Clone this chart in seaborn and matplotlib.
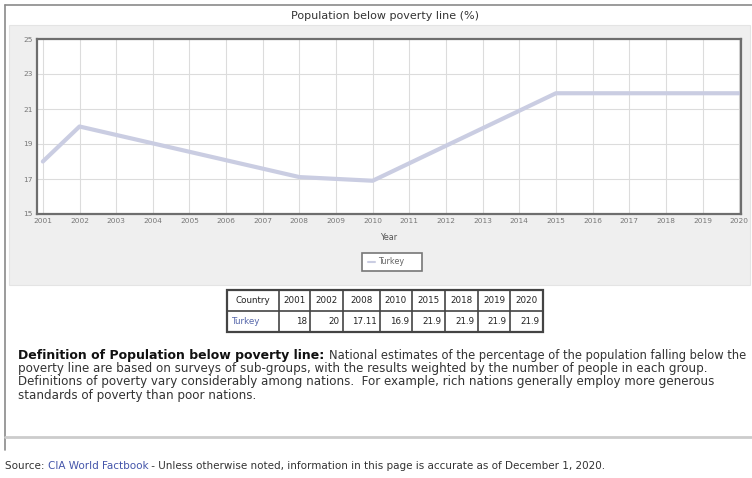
import pandas as pd
import matplotlib.pyplot as plt
import seaborn as sns
from matplotlib.lines import Line2D
from matplotlib.patches import Rectangle

tick_years = list(range(2001, 2021))
years = [2001, 2002, 2008, 2010, 2015, 2018, 2019, 2020]
values = [18, 20, 17.11, 16.9, 21.9, 21.9, 21.9, 21.9]
table_labels = ["18", "20", "17.11", "16.9", "21.9", "21.9", "21.9", "21.9"]
y_ticks = [15, 17, 19, 21, 23, 25]

df = pd.DataFrame({"Year": years, "value": values, "country": "Turkey"})

sns.set_theme(style="white")
plt.rcParams["font.family"] = ["DejaVu Sans"]

W, H = 752, 478
fig = plt.figure(figsize=(W / 100, H / 100), dpi=100)
fig.patch.set_facecolor("white")


def box(x, y, w, h):
    # pixel box (top-left origin) -> figure fraction
    return [x / W, 1 - (y + h) / H, w / W, h / H]


def fx(x):
    return x / W


def fy(y):
    return 1 - y / H


# page border lines
fig.add_artist(Line2D([fx(5), fx(752)], [fy(5), fy(5)], color="#8a8a8a", lw=1.2))
fig.add_artist(Line2D([fx(5), fx(5)], [fy(5), fy(450)], color="#8a8a8a", lw=1.2))

# chart title
fig.text(fx(385), fy(16), "Population below poverty line (%)", ha="center", va="center",
         fontsize=8, color="#333333")

# grey chart panel (behind the axes)
fig.add_artist(Rectangle((fx(9), fy(285)), fx(741), fy(25) - fy(285), facecolor="#efefef",
                         edgecolor="#e4e4e4", lw=0.8, transform=fig.transFigure, zorder=-5))

# plot area
ax = fig.add_axes(box(37, 39, 704, 175))
sns.lineplot(data=df, x="Year", y="value", hue="country", palette=["#cacde2"],
             linewidth=3, ax=ax, legend=False)
ax.set_xlim(2000.84, 2020.05)
ax.set_ylim(15, 25)
ax.set_xticks(tick_years)
ax.set_xticklabels([str(y) for y in tick_years], fontsize=5.3, color="#777777")
ax.set_yticks(y_ticks)
ax.set_yticklabels([str(y) for y in y_ticks], fontsize=5.3, color="#777777")
ax.tick_params(axis="both", length=0, pad=3)
ax.grid(True, color="#dcdcdc", lw=0.8)
ax.set_facecolor("white")
for s in ax.spines.values():
    s.set_color("#6e6e6e")
    s.set_linewidth(1.6)
ax.set_xlabel("Year", fontsize=5.8, color="#555555", labelpad=6)
ax.set_ylabel("")

# legend box
fig.add_artist(Rectangle((fx(362), fy(271)), fx(60), fy(253) - fy(271), facecolor="white",
                         edgecolor="#777777", lw=1.2, transform=fig.transFigure))
fig.add_artist(Line2D([fx(368), fx(375)], [fy(262), fy(262)], color="#cacde2", lw=1.5))
fig.text(fx(378), fy(262), "Turkey", fontsize=5.8, color="#666666", va="center")

# data table
cols = [227, 279, 310, 343, 380, 412, 445, 478, 510, 543]
rows = [290, 311, 332]
header = ["Country"] + [str(y) for y in years]
body = ["Turkey"] + table_labels
fig.add_artist(Rectangle((fx(cols[0]), fy(rows[2])), fx(cols[-1] - cols[0]), fy(rows[0]) - fy(rows[2]),
                         facecolor="white", edgecolor="#444444", lw=1.6, transform=fig.transFigure))
for x in cols[1:-1]:
    fig.add_artist(Line2D([fx(x), fx(x)], [fy(rows[0]), fy(rows[2])], color="#444444", lw=1.2))
fig.add_artist(Line2D([fx(cols[0]), fx(cols[-1])], [fy(rows[1]), fy(rows[1])], color="#444444", lw=1.2))
for i in range(len(header)):
    fig.text(fx((cols[i] + cols[i + 1]) / 2), fy((rows[0] + rows[1]) / 2), header[i],
             ha="center", va="center", fontsize=6.3, color="#222222")
    if i == 0:
        fig.text(fx(cols[0] + 4), fy((rows[1] + rows[2]) / 2), body[i],
                 ha="left", va="center", fontsize=6.3, color="#5566aa")
    else:
        fig.text(fx(cols[i + 1] - 3), fy((rows[1] + rows[2]) / 2), body[i],
                 ha="right", va="center", fontsize=6.3, color="#222222")

# definition text
bold = fig.text(fx(18), fy(355), "Definition of Population below poverty line:", fontsize=9.0,
                fontweight="bold", color="#111111", va="center")
fig.canvas.draw()
bb = bold.get_window_extent()
fig.text((bb.x1 + 5) / W, fy(355), "National estimates of the percentage of the population falling below the",
         fontsize=8.3, color="#333333", va="center")
rest = ["poverty line are based on surveys of sub-groups, with the results weighted by the number of people in each group.",
        "Definitions of poverty vary considerably among nations.  For example, rich nations generally employ more generous",
        "standards of poverty than poor nations."]
for k, line in enumerate(rest):
    fig.text(fx(18), fy(368.5 + 13.3 * k), line, fontsize=8.6, color="#333333", va="center")

# separator
fig.add_artist(Line2D([fx(5), fx(752)], [fy(437), fy(437)], color="#cccccc", lw=2))

# source line
s1 = fig.text(fx(5), fy(466), "Source: ", fontsize=7.45, color="#333333", va="center")
fig.canvas.draw()
x0 = s1.get_window_extent().x1
s2 = fig.text(x0 / W, fy(466), "CIA World Factbook", fontsize=7.45, color="#4455aa", va="center")
fig.canvas.draw()
x1 = s2.get_window_extent().x1
fig.text(x1 / W, fy(466), " - Unless otherwise noted, information in this page is accurate as of December 1, 2020.",
         fontsize=7.45, color="#333333", va="center")

fig.savefig("out.png", dpi=100)
